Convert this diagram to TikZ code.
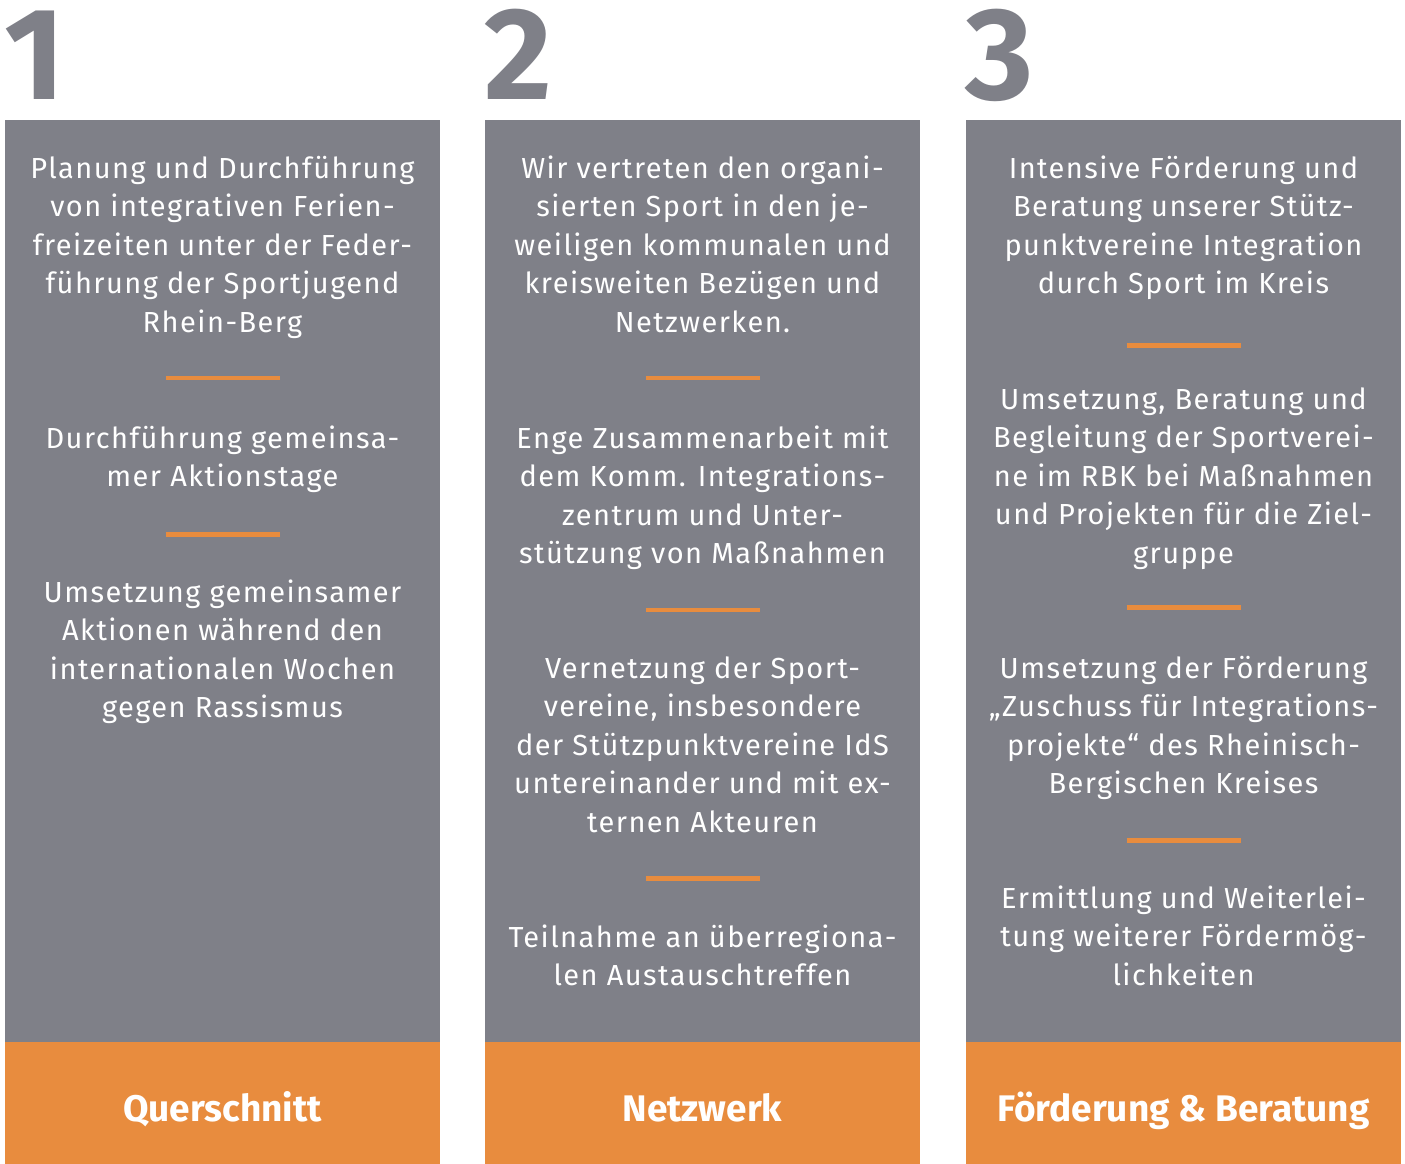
\documentclass[tikz,border=0pt]{standalone}
\usepackage{fontspec}
\newfontfamily\lightf[LetterSpace=5.0]{Fira Sans}
\newfontfamily\boldf{Fira Sans Bold}
\definecolor{colgray}{HTML}{7F8088}
\definecolor{colorange}{HTML}{E88C3E}
\newcommand\lines[1]{\begin{tabular}[t]{@{}c@{}}#1\end{tabular}}
\tikzset{
  panel/.style={fill=colgray, draw=none},
  band/.style={fill=colorange, draw=none},
  body/.style={text=white, inner sep=0pt, anchor=base, font=\lightf\fontsize{29}{38.5}\selectfont},
  head/.style={text=white, inner sep=0pt, anchor=base, font=\boldf\fontsize{37}{40}\selectfont},
  num/.style={text=colgray, inner sep=0pt, anchor=base west, font=\boldf\fontsize{131}{131}\selectfont},
  sep/.style={draw=colorange, line width=4.5pt}
}
\begin{document}
\begin{tikzpicture}[x=1pt,y=-1pt]
\useasboundingbox (0,0) rectangle (1405,1164);
% columns
\fill[panel] (5,120) rectangle (440,1042);
\fill[band] (5,1042) rectangle (440,1164);
\fill[panel] (485,120) rectangle (920,1042);
\fill[band] (485,1042) rectangle (920,1164);
\fill[panel] (966,120) rectangle (1401,1042);
\fill[band] (966,1042) rectangle (1401,1164);
% numbers
\node[num] (n1) at (4,99.5) {1};
\node[num] (n2) at (484,99.5) {2};
\node[num] (n3) at (965.5,99.5) {3};
% column 1
\node[body] (a1) at (222.5,178) {\lines{Planung und Durchführung\\von integrativen Ferien-\\freizeiten unter der Feder-\\führung der Sportjugend\\Rhein-Berg}};
\draw[sep] (165.5,378) -- (279.5,378);
\node[body] (a2) at (222.5,448) {\lines{Durchführung gemeinsa-\\mer Aktionstage}};
\draw[sep] (165.5,534.5) -- (279.5,534.5);
\node[body] (a3) at (222.5,602) {\lines{Umsetzung gemeinsamer\\Aktionen während den\\internationalen Wochen\\gegen Rassismus}};
\node[head] (h1) at (222.5,1121) {Querschnitt};
% column 2
\node[body] (b1) at (702.5,178) {\lines{Wir vertreten den organi-\\sierten Sport in den je-\\weiligen kommunalen und\\kreisweiten Bezügen und\\Netzwerken.}};
\draw[sep] (645.5,378) -- (759.5,378);
\node[body] (b2) at (702.5,448) {\lines{Enge Zusammenarbeit mit\\dem Komm. Integrations-\\zentrum und Unter-\\stützung von Maßnahmen}};
\draw[sep] (645.5,610) -- (759.5,610);
\node[body] (b3) at (702.5,678) {\lines{Vernetzung der Sport-\\vereine, insbesondere\\der Stützpunktvereine IdS\\untereinander und mit ex-\\ternen Akteuren}};
\draw[sep] (645.5,878.5) -- (759.5,878.5);
\node[body] (b4) at (702.5,947) {\lines{Teilnahme an überregiona-\\len Austauschtreffen}};
\node[head] (h2) at (702.5,1121) {Netzwerk};
% column 3
\node[body] (c1) at (1183.5,178) {\lines{Intensive Förderung und\\Beratung unserer Stütz-\\punktvereine Integration\\durch Sport im Kreis}};
\draw[sep] (1126.5,345.5) -- (1240.5,345.5);
\node[body] (c2) at (1183.5,409) {\lines{Umsetzung, Beratung und\\Begleitung der Sportverei-\\ne im RBK bei Maßnahmen\\und Projekten für die Ziel-\\gruppe}};
\draw[sep] (1126.5,607.5) -- (1240.5,607.5);
\node[body] (c3) at (1183.5,678) {\lines{Umsetzung der Förderung\\„Zuschuss für Integrations-\\projekte“ des Rheinisch-\\Bergischen Kreises}};
\draw[sep] (1126.5,840.5) -- (1240.5,840.5);
\node[body] (c4) at (1183.5,908) {\lines{Ermittlung und Weiterlei-\\tung weiterer Fördermög-\\lichkeiten}};
\node[head] (h3) at (1183.5,1121) {Förderung \& Beratung};
\end{tikzpicture}
\end{document}
